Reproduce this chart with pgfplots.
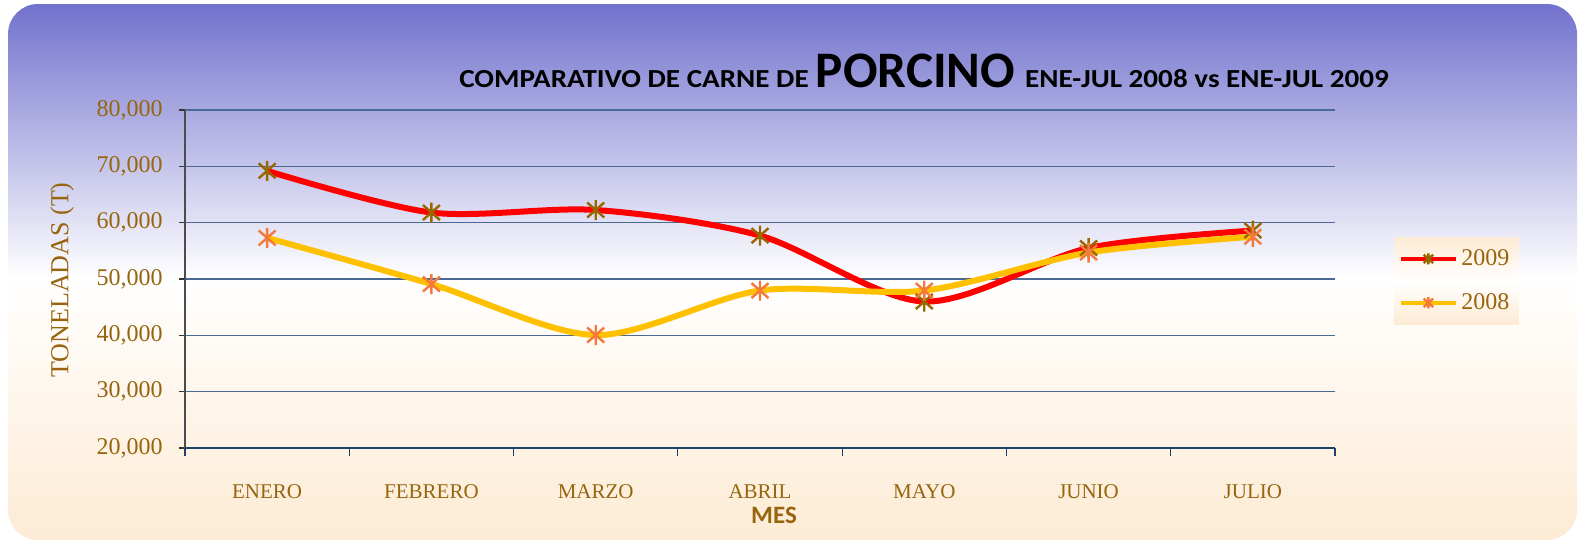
\documentclass[border=0pt]{standalone}
\usepackage{fontspec}
\setmainfont{Liberation Serif}
\newfontfamily\carlito{Carlito}
\usepackage{pgfplots}
\pgfplotsset{compat=1.18}

\definecolor{topblue}{HTML}{7272CE}
\definecolor{peach}{HTML}{FDEBD4}
\definecolor{brownlbl}{HTML}{98650F}
\definecolor{gridblue}{HTML}{4A6A95}
\definecolor{navy}{HTML}{1F3F6F}
\definecolor{rojo}{HTML}{FF0000}
\definecolor{amarillo}{HTML}{FFC000}
\definecolor{mark09}{HTML}{996600}
\definecolor{mark08}{HTML}{F4793B}

\pgfdeclareverticalshading{fondo}{100bp}{color(0bp)=(peach); color(25bp)=(peach);
  color(49.4bp)=(white); color(75bp)=(topblue); color(100bp)=(topblue)}

% asterisco estilo Excel: vertical + X
\pgfdeclareplotmark{xast}{%
  \pgfpathmoveto{\pgfqpoint{0pt}{\pgfplotmarksize}}\pgfpathlineto{\pgfqpoint{0pt}{-\pgfplotmarksize}}%
  \pgfpathmoveto{\pgfqpoint{-.85\pgfplotmarksize}{.75\pgfplotmarksize}}\pgfpathlineto{\pgfqpoint{.85\pgfplotmarksize}{-.75\pgfplotmarksize}}%
  \pgfpathmoveto{\pgfqpoint{-.85\pgfplotmarksize}{-.75\pgfplotmarksize}}\pgfpathlineto{\pgfqpoint{.85\pgfplotmarksize}{.75\pgfplotmarksize}}%
  \pgfusepathqstroke}

\newcommand\tpeq[1]{\scalebox{1.12}[1]{\fontsize{13}{15}\selectfont #1}}

\begin{document}
\begin{tikzpicture}
\path (0,0) rectangle (789.5pt,271.5pt);
\shade[shading=fondo, rounded corners=15pt] (4pt,1.5pt) rectangle (788.5pt,269.5pt);

\node[anchor=base, inner sep=0pt] at (462pt,228pt) {\carlito\bfseries
  \tpeq{COMPARATIVO DE CARNE DE}\hspace{3.5pt}{\fontsize{25.6}{28}\selectfont PORCINO}\hspace{5pt}\tpeq{ENE-JUL 2008 vs ENE-JUL 2009}};

\begin{axis}[
  at={(92.5pt,47.5pt)}, anchor=south west, scale only axis,
  width=575pt, height=169pt,
  xmin=-0.5, xmax=6.5, ymin=20000, ymax=80000,
  axis x line*=bottom, axis y line*=left,
  x axis line style={draw=navy, line width=0.9pt, -},
  y axis line style={draw=black!70, line width=0.6pt, -},
  xtick={0,...,6},
  xticklabels={ENERO, FEBRERO, MARZO, ABRIL, MAYO, JUNIO, JULIO},
  major x tick style={draw=none},
  minor xtick={-0.5,0.5,...,6.5},
  minor x tick style={draw=navy, line width=0.6pt},
  minor tick length=4pt,
  ytick={20000,30000,...,80000},
  major y tick style={draw=black!80, line width=0.6pt},
  major tick length=3pt,
  tick align=outside,
  scaled y ticks=false,
  ymajorgrids, grid style={draw=gridblue, line width=0.8pt},
  yticklabel style={font=\fontsize{12}{14}\selectfont, text=brownlbl, inner sep=0pt, xshift=-8pt,
    /pgf/number format/.cd, fixed, 1000 sep={,}, assume math mode=true},
  xticklabel style={font=\fontsize{10.5}{12}\selectfont, text=brownlbl, anchor=base, yshift=-22pt},
  legend style={at={(1.0513,0.6243)}, anchor=north west, draw=none,
    top color=peach, bottom color=peach, middle color=white,
    font=\fontsize{12}{14}\selectfont, text=brownlbl,
    inner xsep=2.5pt, inner ysep=4pt, row sep=8.5pt},
  legend cell align=left,
  legend image code/.code={\draw[mark repeat=2, mark phase=2] plot coordinates {(0pt,0pt) (13.5pt,0pt) (27pt,0pt)};},
  legend image post style={mark size=2.8pt, line width=2pt},
]
\addplot[rojo, line width=3pt, smooth, mark=xast, mark size=5pt,
  mark options={draw=mark09, line width=1.2pt, solid}]
  coordinates {(0,69200) (1,61800) (2,62250) (3,57700) (4,46000) (5,55500) (6,58600)};
\addplot[amarillo, line width=3pt, smooth, mark=xast, mark size=5pt,
  mark options={draw=mark08, line width=1.2pt, solid}]
  coordinates {(0,57300) (1,49100) (2,40050) (3,47950) (4,47950) (5,54700) (6,57500)};
\legend{2009, 2008}
\end{axis}

\node[rotate=90, text=brownlbl, font=\fontsize{13}{15}\selectfont] at (31pt,131.5pt) {TONELADAS (T)};
\node[anchor=base, inner sep=0pt, text=brownlbl] at (387pt,10pt) {\carlito\bfseries\fontsize{12.5}{15}\selectfont MES};
\end{tikzpicture}
\end{document}
